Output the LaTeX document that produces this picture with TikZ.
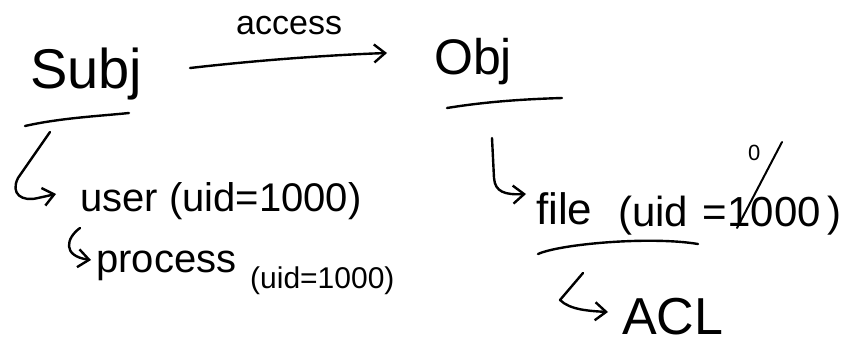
\documentclass[tikz,border=0pt]{standalone}
\usepackage{fontspec}
\setmainfont{Liberation Sans}
\usetikzlibrary{arrows.meta}
\begin{document}
\begin{tikzpicture}[x=1pt,y=-1pt,
  lbl/.style={inner sep=0pt,anchor=base west,font=\fontsize{#1}{#1}\selectfont},
  ink/.style={line width=2.4pt,line cap=round,line join=round},
  hook/.style={ink,-{Straight Barb[length=11pt,width=18pt,line width=2.4pt]}},
  uline/.style={ink}]
\useasboundingbox (0,0) rectangle (850,351);

% subject / object headings
\node[lbl=56] (subj) at (30,88) {Subj};
\node[lbl=34] (access) at (236,34) {access};
\node[lbl=50] (obj) at (434,74) {Obj};

% leaf labels
\node[lbl=40] (user) at (80,211) {user (uid=1000)};
\node[lbl=40] (proc) at (96,272) {process};
\node[lbl=30] (procuid) at (250,288) {(uid=1000)};
\node[lbl=44] (file) at (536,224) {file};
\node[lbl=42] (fileuid) at (618,226) {(uid\hspace{0.35em}=1000\,)};
\node[lbl=22] (zero) at (748,160) {0};
\node[lbl=52] (acl) at (622,334) {ACL};

% anchor points of the strokes
\coordinate (sa) at (190,68);
\coordinate (sb) at (387,53);
\coordinate (su1) at (25,126);
\coordinate (su2) at (129,113);
\coordinate (ou1) at (447,108);
\coordinate (ou2) at (562,98);
\coordinate (fu1) at (538,254);
\coordinate (fu2) at (698,244);
\coordinate (h1) at (50,132);
\coordinate (t1) at (56,194);
\coordinate (h2) at (80,228);
\coordinate (t2) at (91,260);
\coordinate (h3) at (492,138);
\coordinate (t3) at (526,194);
\coordinate (h4) at (583,273);
\coordinate (t4) at (608,312);
\coordinate (sl1) at (737,228);
\coordinate (sl2) at (782,142);

% access arrow
\draw[hook] (sa) .. controls (260,60) and (330,55) .. (sb);

% underlines
\draw[uline] (su1) .. controls (60,118) and (100,116) .. (su2);
\draw[uline] (ou1) .. controls (490,101) and (530,99) .. (ou2);
\draw[uline] (fu1) .. controls (560,244) and (650,236) .. (fu2);

% hooked arrows
\draw[hook] (h1) -- (18,178) .. controls (10,194) and (22,202) .. (38,198) -- (t1);
\draw[hook] (h2) .. controls (66,238) and (62,256) .. (t2);
\draw[hook] (h3) -- (494,178) .. controls (495,192) and (505,195) .. (t3);
\draw[hook] (h4) -- (560,300) .. controls (570,310) and (590,311) .. (t4);

% slash of 0/1000
\draw[ink,line width=2pt] (sl1) -- (sl2);
\end{tikzpicture}
\end{document}
